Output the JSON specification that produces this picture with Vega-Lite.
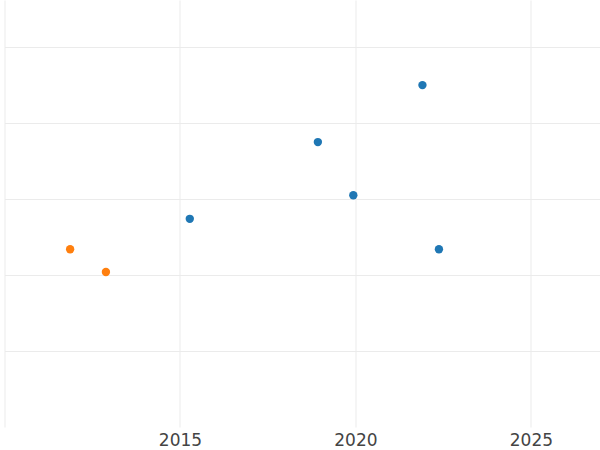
{
  "$schema": "https://vega.github.io/schema/vega-lite/v6.json",
  "autosize": "none",
  "width": 595.5,
  "height": 427,
  "padding": {"left": 4.5, "top": 0, "right": 0, "bottom": 23},
  "config": {"view": {"stroke": null}, "font": "DejaVu Sans"},
  "data": {"values": [
    {"year": 2011.87, "value": 2.34, "group": "B"},
    {"year": 2012.89, "value": 2.04, "group": "B"},
    {"year": 2015.28, "value": 2.74, "group": "A"},
    {"year": 2018.93, "value": 3.75, "group": "A"},
    {"year": 2019.94, "value": 3.05, "group": "A"},
    {"year": 2021.91, "value": 4.50, "group": "A"},
    {"year": 2022.38, "value": 2.34, "group": "A"}
  ]},
  "mark": {"type": "circle", "size": 70, "opacity": 1},
  "encoding": {
    "x": {"field": "year", "type": "quantitative",
      "scale": {"domain": [2010, 2026.97], "nice": false, "zero": false},
      "axis": {"title": null, "values": [2010, 2015, 2020, 2025], "domain": false, "ticks": false,
        "labelExpr": "datum.value == 2010 ? '' : datum.label", "format": "d",
        "labelFontSize": 17, "labelColor": "#444444", "labelPadding": 5,
        "gridColor": "#ebebeb", "gridWidth": 1}},
    "y": {"field": "value", "type": "quantitative",
      "scale": {"domain": [0, 5.62], "nice": false},
      "axis": {"title": null, "values": [1, 2, 3, 4, 5], "domain": false, "ticks": false, "labels": false,
        "gridColor": "#ebebeb", "gridWidth": 1}},
    "color": {"field": "group", "type": "nominal",
      "scale": {"domain": ["A", "B"], "range": ["#1f77b4", "#ff7f0e"]}, "legend": null}
  }
}
